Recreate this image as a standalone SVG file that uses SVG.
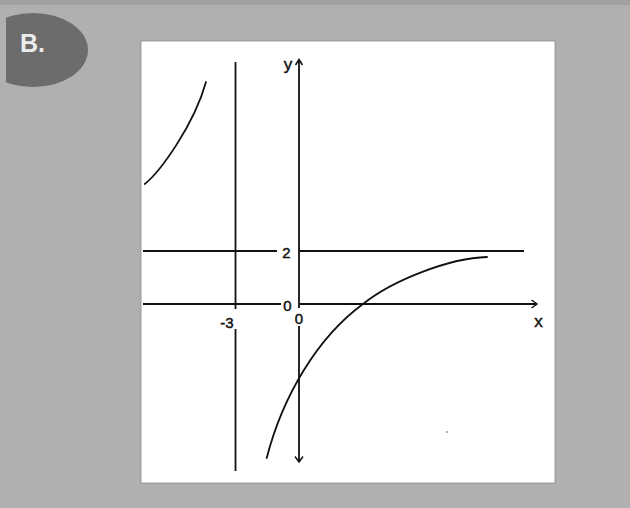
<svg xmlns="http://www.w3.org/2000/svg" width="630" height="508" viewBox="0 0 630 508">
  <style>
    .ln { stroke: #111; stroke-width: 1.8; fill: none; stroke-linecap: butt; }
    .cv { stroke: #111; stroke-width: 1.8; fill: none; stroke-linecap: round; }
    .ah { stroke: #111; stroke-width: 1.5; fill: none; stroke-linejoin: miter; }
    .lbl { font-family: "Liberation Sans", Arial, sans-serif; font-size: 15px; fill: #111; stroke: #111; stroke-width: 0.45; text-anchor: middle; }
    .big { font-size: 17px; }
  </style>
  <defs>
    <clipPath id="ovalClip"><rect x="6" y="0" width="120" height="120"/></clipPath>
  </defs>

  <!-- background -->
  <rect x="0" y="0" width="630" height="508" fill="#b0b0b0"/>
  <rect x="0" y="0" width="630" height="5" fill="#a0a0a0"/>

  <!-- badge -->
  <g id="badge">
    <ellipse cx="33" cy="50" rx="55" ry="37" fill="#6c6c6c" clip-path="url(#ovalClip)"/>
    <text x="20" y="52" font-family="Liberation Sans, Arial, sans-serif" font-size="25" font-weight="bold" fill="#ececec">B.</text>
  </g>

  <!-- panel -->
  <g id="panel">
    <rect x="141" y="41" width="414" height="442" fill="#ffffff" stroke="#8a8a8a" stroke-width="0.8"/>
  </g>

  <!-- axes and asymptotes -->
  <g id="connectors">
    <!-- vertical asymptote x=-3 -->
    <line class="ln" x1="235.5" y1="62" x2="235.5" y2="309"/>
    <line class="ln" x1="235.5" y1="329" x2="235.5" y2="471"/>
    <!-- horizontal asymptote y=2 -->
    <line class="ln" x1="143" y1="251" x2="277" y2="251"/>
    <line class="ln" x1="299" y1="251" x2="524" y2="251"/>
    <!-- x-axis -->
    <line class="ln" x1="143" y1="304" x2="281" y2="304"/>
    <line class="ln" x1="299" y1="304" x2="536" y2="304"/>
    <polyline class="ah" points="531.5,300 537,304 531.5,308"/>
    <!-- y-axis -->
    <line class="ln" x1="299" y1="60" x2="299" y2="308"/>
    <line class="ln" x1="299" y1="326" x2="299" y2="461"/>
    <polyline class="ah" points="295.5,65 299,59.5 302.5,65"/>
    <polyline class="ah" points="295,456.5 299,462 303,456.5"/>
  </g>

  <!-- curve branches -->
  <g id="curve-left">
    <path class="cv" d="M144.7,184 C160,172 194,125 206,82"/>
  </g>
  <g id="curve-right">
    <path class="cv" d="M266.7,458 C283,395 318,337 363,304 C393,280 450,258 487,257"/>
  </g>

  <!-- labels -->
  <g id="labels">
    <text class="lbl big" x="288" y="70">y</text>
    <text class="lbl" x="286.5" y="257.5">2</text>
    <text class="lbl" x="287.5" y="311">0</text>
    <text class="lbl" x="299" y="324">0</text>
    <text class="lbl" x="227" y="327.5">-3</text>
    <text class="lbl big" x="538.5" y="327">x</text>
  </g>

  <circle cx="447" cy="432" r="0.8" fill="#555"/>
</svg>
